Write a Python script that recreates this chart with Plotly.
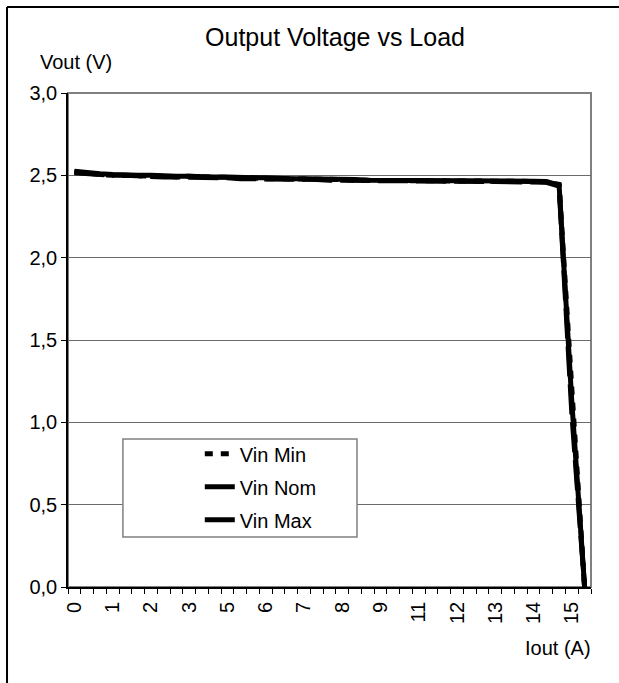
import plotly.graph_objects as go

# Load current (A) for each category point
iout = [0.0, 0.3, 0.7, 1.0, 1.4, 1.7, 2.1, 2.4, 2.7, 3.1,
        3.6, 4.1, 4.6, 4.9, 5.3, 5.7, 6.0, 6.4, 6.8, 7.1,
        7.5, 7.9, 8.2, 8.6, 9.0, 9.5, 10.0, 10.6, 10.9, 11.3,
        11.7, 12.1, 12.4, 12.8, 13.2, 13.5, 13.9, 14.3, 14.6, 15.0,
        15.3]

vin_min = [2.52, 2.51, 2.505, 2.50, 2.50, 2.50, 2.50, 2.495, 2.49, 2.495,
           2.49, 2.49, 2.485, 2.485, 2.485, 2.48, 2.48, 2.48, 2.48, 2.475,
           2.475, 2.475, 2.47, 2.47, 2.47, 2.47, 2.47, 2.47, 2.468, 2.468,
           2.466, 2.466, 2.465, 2.465, 2.465, 2.464, 2.463, 2.46, 2.445, 1.20,
           0.0]
vin_nom = [2.525, 2.515, 2.51, 2.505, 2.50, 2.50, 2.50, 2.495, 2.495, 2.495,
           2.49, 2.49, 2.49, 2.485, 2.485, 2.485, 2.48, 2.48, 2.48, 2.48,
           2.475, 2.475, 2.475, 2.47, 2.47, 2.47, 2.47, 2.47, 2.47, 2.468,
           2.468, 2.466, 2.466, 2.465, 2.465, 2.465, 2.464, 2.462, 2.44, 1.12,
           0.0]
vin_max = [2.515, 2.51, 2.50, 2.50, 2.50, 2.495, 2.495, 2.49, 2.49, 2.49,
           2.49, 2.485, 2.485, 2.48, 2.48, 2.48, 2.48, 2.475, 2.475, 2.475,
           2.47, 2.47, 2.47, 2.47, 2.468, 2.468, 2.466, 2.466, 2.465, 2.465,
           2.465, 2.464, 2.463, 2.462, 2.462, 2.461, 2.46, 2.458, 2.435, 1.05,
           0.0]

series_names = ["Vin Min", "Vin Nom", "Vin Max"]
label_step = 3

idx = list(range(len(iout)))
tick_idx = idx[::label_step]
tick_text = [str(int(iout[i] + 0.5)) for i in tick_idx]

FONT = "Liberation Sans, Arial, sans-serif"

fig = go.Figure()
styles = ["8px,8px", "solid", "30px,8px"]
for name, vals, dash, g in zip(series_names, [vin_min, vin_nom, vin_max], styles, ["a", "b", "c"]):
    fig.add_trace(go.Scatter(x=idx, y=vals, mode="lines", name=name, legendgroup=g,
                             line=dict(color="black", width=5, dash=dash)))

# plot-area and chart frames, legend box
shapes = [
    dict(type="rect", xref="paper", yref="paper", x0=0, x1=1, y0=0, y1=1,
         line=dict(color="#808080", width=2), layer="below"),
    dict(type="rect", xref="paper", yref="paper", x0=0.105, x1=0.5526, y0=0.101, y1=0.2996,
         line=dict(color="#808080", width=1.5), fillcolor="white", layer="above"),
    dict(type="line", xref="paper", yref="paper", x0=-0.1166, x1=-0.1166, y0=-0.3, y1=1.1741,
         line=dict(color="black", width=2)),
    dict(type="line", xref="paper", yref="paper", x0=-0.1166, x1=1.06, y0=1.1741, y1=1.1741,
         line=dict(color="black", width=2)),
]

fig.update_layout(
    width=619, height=683,
    margin=dict(l=68, r=28, t=93, b=96),
    paper_bgcolor="white", plot_bgcolor="white",
    separators=",.",
    font=dict(family=FONT, color="black", size=18),
    title=dict(text="Output Voltage vs Load", x=335 / 619, xanchor="center",
               y=1 - 37 / 683, yanchor="middle", font=dict(size=25, family=FONT)),
    showlegend=True,
    legend=dict(x=0.252, y=0.309, xanchor="left", yanchor="top",
                bgcolor="rgba(0,0,0,0)", borderwidth=0, tracegroupgap=4,
                font=dict(size=20, family=FONT)),
    shapes=shapes,
    annotations=[
        dict(text="Vout (V)", xref="paper", yref="paper", x=(76 - 68) / 523, y=(587 - 62) / 494,
             showarrow=False, xanchor="center", yanchor="middle", font=dict(size=20)),
        dict(text="Iout (A)", xref="paper", yref="paper", x=(558 - 68) / 523, y=(587 - 648) / 494,
             showarrow=False, xanchor="center", yanchor="middle", font=dict(size=20)),
    ],
)

fig.update_xaxes(
    range=[-0.5, len(iout) - 0.5], showgrid=False, zeroline=False,
    showline=True, linecolor="black", linewidth=1.5,
    tickmode="array", tickvals=tick_idx, ticktext=tick_text, tickangle=-90,
    ticks="outside", ticklen=5, tickcolor="rgba(0,0,0,0)",
    tickfont=dict(size=20),
    minor=dict(ticks="outside", ticklen=5, tickcolor="black", tickwidth=1,
               tickmode="linear", tick0=-0.5, dtick=1, showgrid=False),
)
fig.update_yaxes(
    range=[0, 3], tick0=0, dtick=0.5, tickformat=".1f",
    showgrid=True, gridcolor="#6a6a6a", gridwidth=1, zeroline=False,
    showline=True, linecolor="black", linewidth=1.5,
    ticks="outside", ticklen=5, tickcolor="black",
    tickfont=dict(size=20),
)

fig.write_html("out.html", config={"displayModeBar": False},
               post_script="document.body.style.margin='0';")
